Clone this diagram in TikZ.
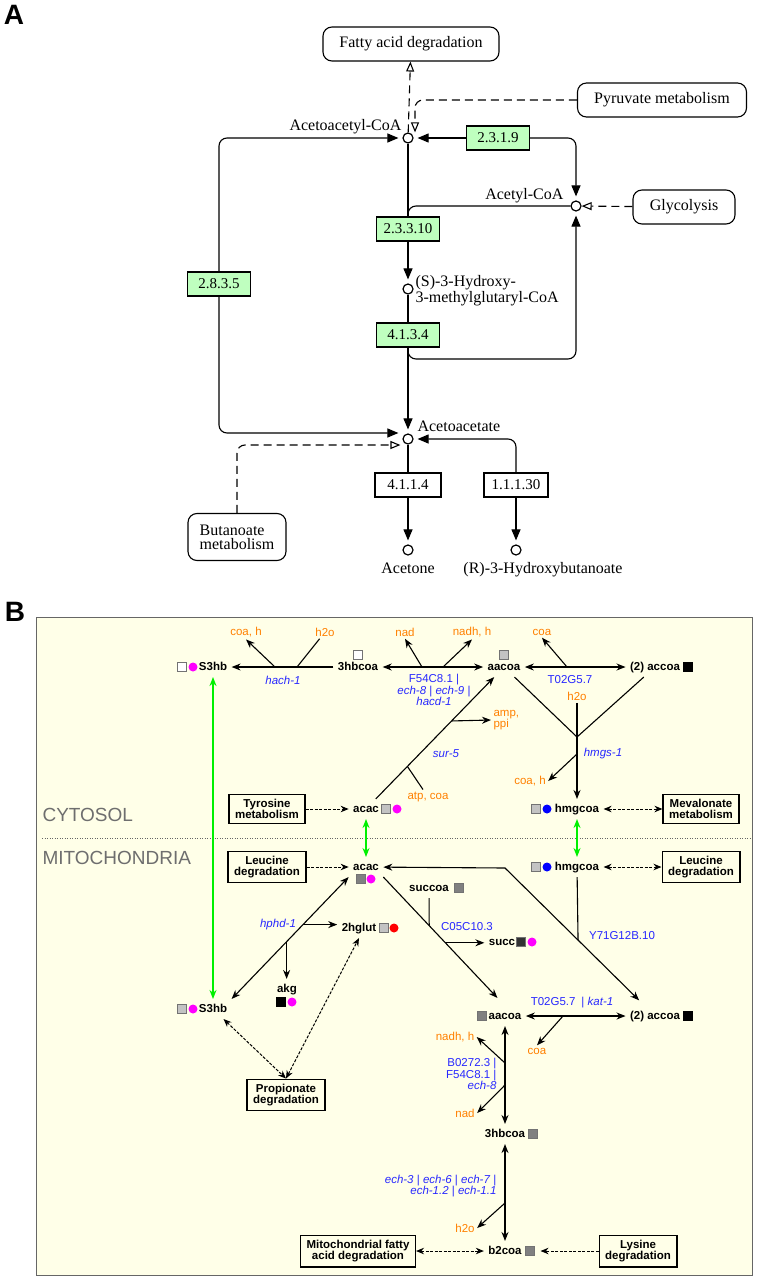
\documentclass[tikz,border=0pt]{standalone}
\usepackage{fontspec}
\setmainfont{Liberation Serif}
\setsansfont{Liberation Sans}
\usepackage{tikz}
\usetikzlibrary{calc,shapes,arrows.meta}
\definecolor{ecgreen}{RGB}{191,255,191}
\definecolor{paneB}{RGB}{255,255,232}
\definecolor{sideorange}{RGB}{255,128,0}
\definecolor{geneblue}{RGB}{40,40,255}
\definecolor{compgray}{RGB}{110,110,110}
\definecolor{lightsq}{RGB}{195,195,195}
\definecolor{darksq}{RGB}{128,128,128}
\definecolor{transgreen}{RGB}{0,240,0}
\definecolor{dotmagenta}{RGB}{255,0,255}
\definecolor{dotblue}{RGB}{0,0,255}
\definecolor{dotred}{RGB}{255,0,0}
\newcommand{\keggFont}{\rmfamily\fontsize{16}{16}\selectfont}
\newcommand{\ecFont}{\rmfamily\fontsize{15}{16}\selectfont}
\newcommand{\pathFont}{\sffamily\fontsize{11.5}{11}\selectfont}
\newcommand{\geneFont}{\sffamily\fontsize{11.5}{10.5}\selectfont}
\newcommand{\gene}[1]{\textit{#1}}
\tikzset{
   comp node/.style={circle,draw,line width=1.2pt,fill=white,minimum size=10pt,inner sep=0pt},
   ec node/.style={rectangle,draw,fill=ecgreen,font=\ecFont,minimum height=24pt,minimum width=63pt,inner sep=2pt},
   ec white/.style={ec node,fill=white},
   map node/.style={rectangle,rounded corners=9pt,draw,font=\keggFont,minimum height=34pt,align=center},
   kegg label/.style={font=\keggFont,inner sep=0pt},
   kegg arrow/.style={-{Triangle[length=11pt,width=9pt]},shorten >=4pt},
   kegg map/.style={dash pattern=on 8pt off 5pt,-{Triangle[open,length=10pt,width=8pt]}},
   met node/.style={font=\pathFont\bfseries,text height=8.5pt,text depth=2.5pt,inner sep=4pt},
   box node/.style={rectangle,draw,line width=1.2pt,font=\pathFont\bfseries,align=center,inner xsep=6pt,inner ysep=5pt},
   gene node/.style={font=\geneFont,text=geneblue,inner sep=2pt},
   side node/.style={font=\pathFont,text=sideorange,inner sep=2pt},
   rxn/.style={line width=1.1pt},
   rxn arrow/.style={rxn,-{Stealth[length=9pt,width=7pt]}},
   rxn both/.style={rxn,{Stealth[length=9pt,width=7pt]}-{Stealth[length=9pt,width=7pt]}},
   link/.style={line width=1pt,dash pattern=on 3pt off 1.5pt},
   link arrow/.style={link,-{Stealth[length=8pt,width=6.5pt]}},
   link both/.style={link,{Stealth[length=8pt,width=6.5pt]}-{Stealth[length=8pt,width=6.5pt]}},
   transport/.style={line width=1.2pt,draw=transgreen,{Stealth[length=9pt,width=7pt]}-{Stealth[length=9pt,width=7pt]}},
   sq/.style={rectangle,draw=black!55,line width=0.6pt,minimum size=8.5pt,inner sep=0pt},
   sq white/.style={sq,fill=white},
   sq light/.style={sq,fill=lightsq},
   sq dark/.style={sq,fill=darksq},
   sq black/.style={sq,fill=black,draw=black},
   mdot/.style={circle,fill=#1,minimum size=9pt,inner sep=0pt}
}

\begin{document}
\begin{tikzpicture}[x=1pt,y=-1pt,line width=1.1pt]
\useasboundingbox (0,0) rectangle (763,1279);

% panel A
\node[font=\sffamily\bfseries\fontsize{28}{28}\selectfont,inner sep=0pt] (labelA) at (14,15) {A};

\node[map node,minimum width=176pt] (fad) at (411,44) {Fatty acid degradation};
\node[map node,minimum width=169pt] (pyr) at (662,100) {Pyruvate metabolism};
\node[map node,minimum width=102pt] (gly) at (684,207) {Glycolysis};
\node[map node,minimum width=98pt,minimum height=47pt,align=left,font=\rmfamily\fontsize{16}{14}\selectfont] (but) at (237,537) {Butanoate\\metabolism};

\node[comp node] (acacoa) at (408,138) {};
\node[comp node] (accoa) at (576,206) {};
\node[comp node] (hmgcoa) at (408,289) {};
\node[comp node] (acac) at (408,439) {};
\node[comp node] (acetone) at (408,550) {};
\node[comp node] (hbut) at (516,550) {};

\node[kegg label,anchor=base east] (acacoaT) at (402,131) {Acetoacetyl-CoA};
\node[kegg label,anchor=base east] (accoaT) at (564,199) {Acetyl-CoA};
\node[kegg label,anchor=west,align=left] (hmgcoaT) at (415,291) {(S)-3-Hydroxy-\\3-methylglutaryl-CoA};
\node[kegg label,anchor=base west] (acacT) at (417,431) {Acetoacetate};
\node[kegg label,anchor=base] (acetoneT) at (408,573) {Acetone};
\node[kegg label,anchor=base] (hbutT) at (543,573) {(R)-3-Hydroxybutanoate};

\node[ec node] (e2319) at (498,138) {2.3.1.9};
\node[ec node] (e23310) at (408,229) {2.3.3.10};
\node[ec node] (e2835) at (219,284) {2.8.3.5};
\node[ec node] (e4134) at (408,335) {4.1.3.4};
\node[ec white,minimum width=66pt] (e4114) at (408,485) {4.1.1.4};
\node[ec white,minimum width=64pt] (e11130) at (516,485) {1.1.1.30};

% maps
\draw[kegg map] (acacoa) -- (fad);
\draw[kegg map,rounded corners=8pt] (pyr.west) -| ([xshift=7pt]acacoa.north);
\draw[kegg map] (gly) -- (accoa);
\draw[kegg map,rounded corners=8pt] (but.north) |- ([xshift=-2pt,yshift=-6pt]acac.west);

% reactions
\draw[kegg arrow] (e2319) -- (acacoa);
\draw[kegg arrow,rounded corners=8pt] (e2319.east) -| (accoa.north);
\draw (acacoa) -- (e23310);
\draw[rounded corners=8pt] (accoa.west) -| (e23310.north);
\draw[kegg arrow] (e23310) -- (hmgcoa);
\draw (hmgcoa) -- (e4134);
\draw[kegg arrow] (e4134) -- (acac);
\coordinate (b4134) at (576,359);
\draw[kegg arrow,rounded corners=8pt] (e4134.south) |- (b4134) -- (accoa.south);
\draw[kegg arrow,rounded corners=8pt] (e2835.north) |- (acacoa.west);
\draw[kegg arrow,rounded corners=8pt] (e2835.south) |- ([yshift=6pt]acac.west);
\draw (acac) -- (e4114);
\draw[kegg arrow] (e4114) -- (acetone);
\draw[kegg arrow,rounded corners=8pt] (e11130.north) |- (acac.east);
\draw[kegg arrow] (e11130) -- (hbut);

% panel B
\node[font=\sffamily\bfseries\fontsize{28}{28}\selectfont,inner sep=0pt] (labelB) at (15,612) {B};
\draw[draw=black!60,fill=paneB,line width=1pt] (36,617) rectangle (752,1275);
\draw[black!60,line width=1pt,dash pattern=on 1pt off 1.5pt] (42,838) -- (750,838);
\node[anchor=west,inner sep=0pt,text=compgray,font=\sffamily\fontsize{19}{19}\selectfont] (cyto) at (42,815) {CYTOSOL};
\node[anchor=west,inner sep=0pt,text=compgray,font=\sffamily\fontsize{19}{19}\selectfont] (mito) at (42,858) {MITOCHONDRIA};

% cytosol
\node[met node] (s3hbC) at (213,667) {S3hb};
\node[sq white] (s3hbCs) at (182,667) {};
\node[mdot=dotmagenta] (s3hbCd) at (193,667) {};
\node[met node] (hbcoaC) at (358,667) {3hbcoa};
\node[sq white] (hbcoaCs) at (358,655) {};
\node[met node] (aacoaC) at (504,667) {aacoa};
\node[sq light] (aacoaCs) at (504,655) {};
\node[met node] (accoaC) at (655,667) {(2) accoa};
\node[sq black] (accoaCs) at (688,667) {};
\node[met node] (acacC) at (366,809) {acac};
\node[sq light] (acacCs) at (386,809) {};
\node[mdot=dotmagenta] (acacCd) at (397,809) {};
\node[met node] (hmgcoaC) at (577,809) {hmgcoa};
\node[sq light] (hmgcoaCs) at (536,809) {};
\node[mdot=dotblue] (hmgcoaCd) at (547,809) {};

\node[box node] (tyr) at (267,809) {Tyrosine\\metabolism};
\node[box node] (mev) at (701,809) {Mevalonate\\metabolism};

\node[side node] (coaH1) at (246,632) {coa, h};
\node[side node] (h2o1) at (325,632) {h2o};
\node[gene node] (hach) at (283,680) {\gene{hach-1}};
\node[side node] (nad1) at (405,632) {nad};
\node[side node] (nadh1) at (472,632) {nadh, h};
\node[gene node,align=center] (f54c) at (434,690) {F54C8.1 |\\\gene{ech-8} | \gene{ech-9} |\\\gene{hacd-1}};
\node[side node] (coa1) at (542,632) {coa};
\node[gene node] (t02c) at (570,680) {T02G5.7};
\node[side node] (h2o2) at (577,696) {h2o};
\node[gene node] (hmgs) at (603,754) {\gene{hmgs-1}};
\node[side node] (coaH2) at (530,781) {coa, h};
\node[side node,align=left,anchor=west,font=\sffamily\fontsize{11.5}{8.5}\selectfont] (amp) at (491,720) {amp,\\ppi};
\node[gene node] (sur5) at (446,754) {\gene{sur-5}};
\node[side node] (atp) at (428,797) {atp, coa};

\coordinate (h1a) at (275,667);
\coordinate (h1b) at (297,667);
\draw[rxn arrow] (hbcoaC) -- (s3hbC);
\draw[rxn arrow] (h1a) -- (coaH1.south);
\draw[rxn] (h2o1) -- (h1b);

\coordinate (f1a) at (422,667);
\coordinate (f1b) at (443,667);
\draw[rxn both] (hbcoaC) -- (aacoaC);
\draw[rxn arrow] (f1a) -- (nad1.south);
\draw[rxn arrow] (f1b) -- (nadh1.south);

\coordinate (t1a) at (567,667);
\draw[rxn both] (aacoaC) -- (accoaC);
\draw[rxn arrow] (t1a) -- (coa1.south);

\coordinate (hm1) at (577,737);
\coordinate (hm2) at (577,754);
\draw[rxn] (aacoaC) -- (hm1) -- (accoaC);
\draw[rxn arrow] (h2o2) -- (hmgcoaC);
\draw[rxn arrow] (hm2) -- (coaH2.east);

\coordinate (s5a) at ($(acacC)!0.62!(aacoaC)$);
\coordinate (s5b) at ($(acacC)!0.3!(aacoaC)$);
\draw[rxn arrow] (acacC) -- (aacoaC);
\draw[rxn arrow] (s5a) -- (amp.west);
\draw[rxn] (atp) -- (s5b);

\path[link arrow] (tyr) edge (acacC);
\path[link both] (hmgcoaC) edge (mev);

% mitochondria
\node[met node] (acacM) at (366,867) {acac};
\node[sq dark] (acacMs) at (361,879) {};
\node[mdot=dotmagenta] (acacMd) at (371,879) {};
\node[met node] (hmgcoaM) at (577,867) {hmgcoa};
\node[sq light] (hmgcoaMs) at (536,867) {};
\node[mdot=dotblue] (hmgcoaMd) at (547,867) {};
\node[met node] (succoa) at (429,888) {succoa};
\node[sq dark] (succoaS) at (459,888) {};
\node[met node] (succ) at (502,942) {succ};
\node[sq,fill=black!80] (succS) at (521,942) {};
\node[mdot=dotmagenta] (succD) at (532,942) {};
\node[met node] (hglut) at (359,928) {2hglut};
\node[sq light] (hglutS) at (384,928) {};
\node[mdot=dotred] (hglutD) at (394,928) {};
\node[met node] (akg) at (287,989) {akg};
\node[sq black] (akgS) at (281,1002) {};
\node[mdot=dotmagenta] (akgD) at (292,1002) {};
\node[met node] (s3hbM) at (213,1009) {S3hb};
\node[sq light] (s3hbMs) at (182,1009) {};
\node[mdot=dotmagenta] (s3hbMd) at (193,1009) {};
\node[met node] (aacoaM) at (505,1016) {aacoa};
\node[sq dark] (aacoaMs) at (482,1016) {};
\node[met node] (accoaM) at (655,1016) {(2) accoa};
\node[sq black] (accoaMs) at (688,1016) {};
\node[met node] (hbcoaM) at (505,1134) {3hbcoa};
\node[sq dark] (hbcoaMs) at (533,1134) {};
\node[met node] (b2coa) at (505,1251) {b2coa};
\node[sq dark] (b2coaS) at (530,1251) {};

\node[box node] (leuL) at (267,867) {Leucine\\degradation};
\node[box node] (leuR) at (701,867) {Leucine\\degradation};
\node[box node] (prop) at (286,1095) {Propionate\\degradation};
\node[box node] (mfad) at (358,1251) {Mitochondrial fatty\\acid degradation};
\node[box node] (lys) at (638,1251) {Lysine\\degradation};

\node[gene node] (hphd) at (278,925) {\gene{hphd-1}};
\node[gene node] (c05c) at (467,927) {C05C10.3};
\node[gene node] (y71g) at (622,936) {Y71G12B.10};
\node[gene node] (t02m) at (572,1003) {T02G5.7\hspace{6pt}| \gene{kat-1}};
\node[side node] (coa2) at (537,1051) {coa};
\node[side node] (nadh2) at (455,1037) {nadh, h};
\node[gene node,align=right,anchor=east] (b027) at (499,1074) {B0272.3 |\\F54C8.1 |\\\gene{ech-8}};
\node[side node] (nad2) at (465,1113) {nad};
\node[gene node,align=right,anchor=east] (ech) at (499,1186) {\gene{ech-3} | \gene{ech-6} | \gene{ech-7} |\\\gene{ech-1.2} | \gene{ech-1.1}};
\node[side node] (h2o3) at (465,1228) {h2o};

% transport
\draw[transport] (acacC) -- (acacM);
\draw[transport] (hmgcoaC) -- (hmgcoaM);
\draw[transport] (s3hbC) -- (s3hbM);

\path[link arrow] (leuL) edge (acacM);
\path[link both] (hmgcoaM) edge (leuR);

\coordinate (k1) at (505,868);
\coordinate (k2) at ($(k1)!0.487!(accoaM)$);
\draw[rxn both,shorten >=8pt] (acacM) -- (k1) -- (accoaM);
\draw[rxn] (hmgcoaM) -- (k2);

\coordinate (c1a) at ($(acacM.south east)!0.377!(aacoaM.north)$);
\coordinate (c1b) at ($(acacM.south east)!0.51!(aacoaM.north)$);
\draw[rxn arrow,shorten >=11pt] (acacM.south east) -- (aacoaM.north);
\draw[rxn] (succoa) -- (c1a);
\draw[rxn arrow] (c1b) -- (c1b -| succ.west);

\coordinate (p1a) at ($(acacM.south west)!0.39!(s3hbM.north east)$);
\coordinate (p1b) at ($(acacM.south west)!0.53!(s3hbM.north east)$);
\draw[rxn both] (acacM.south west) -- (s3hbM.north east);
\draw[rxn arrow] (p1a) -- (p1a -| hglut.west);
\draw[rxn arrow] (p1b) -- (p1b |- akg.north);

\path[link both] (s3hbM) edge (prop.north)
  (prop.north) edge (hglut.south);

\coordinate (t2a) at (563,1016);
\draw[rxn both] (aacoaM) -- (accoaM);
\draw[rxn arrow] (t2a) -- (coa2.north);

\coordinate (b1a) at (505,1063);
\coordinate (b1b) at (505,1085);
\draw[rxn both] (hbcoaM) -- (aacoaM);
\draw[rxn arrow] (b1a) -- (nadh2.east);
\draw[rxn arrow] (b1b) -- (nad2.east);

\coordinate (e1a) at (505,1203);
\draw[rxn both] (hbcoaM) -- (b2coa);
\draw[rxn arrow] (e1a) -- (h2o3.east);

\path[link both] (mfad) edge (b2coa);
\draw[link arrow,shorten >=6pt] (lys) -- (b2coaS);

\end{tikzpicture}
\end{document}
